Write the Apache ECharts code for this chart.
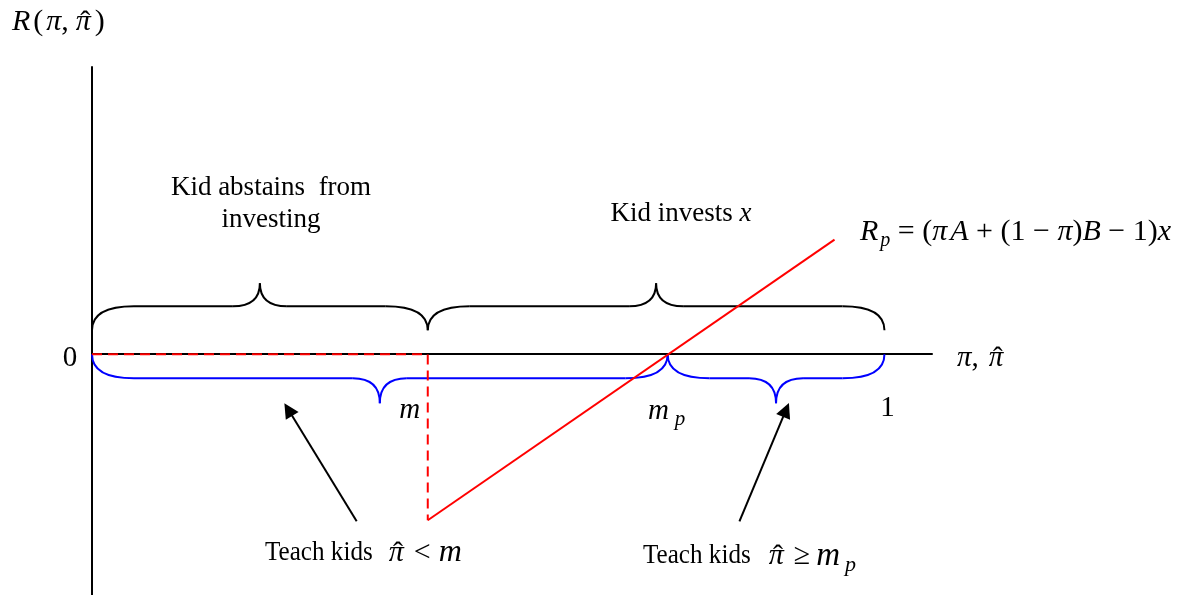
<!DOCTYPE html>
<html>
<head>
<meta charset="utf-8">
<script src="https://cdn.jsdelivr.net/npm/echarts@6/dist/echarts.min.js"></script>
<style>
  html, body { margin: 0; padding: 0; background: #fff; }
  #chart { width: 1197px; height: 595px; }
</style>
</head>
<body>
<div id="chart"></div>
<script>
// thresholds on the belief axis (0 .. 1)
const m = 0.4237;
const mP = 0.7264;
const axisTicks = [0, m, mP, 1];

// return R: zero while abstaining, then the R_p line through m_p
const redDashed = [[0, 0], [m, 0], [m, -1]];
const redSolid = [[m, -1], [0.937, 0.69]];

// brace ranges [from, to]
const upperBraces = [[0, m], [m, 1]];
const lowerBraces = [[0, mP], [mP, 1]];

// arrows [tail, head]
const arrows = [
  [[0.334, -1.006], [0.2477, -0.333]],
  [[0.817, -1.006], [0.8758, -0.335]],
];

const FONT = '"Liberation Serif", "Times New Roman", serif';

const chart = echarts.init(document.getElementById('chart'));

// curly brace drawn from axis coordinates; offsets in px: [ends, plateau, tip]
function braceRenderer(offsets, color) {
  return function (params, api) {
    const a = api.coord([api.value(0), 0]);
    const b = api.coord([api.value(1), 0]);
    const y0 = a[1];
    const yE = y0 + offsets[0];
    const yP = y0 + offsets[1];
    const yT = y0 + offsets[2];
    const x1 = a[0];
    const x2 = b[0];
    const xm = (x1 + x2) / 2;
    const r = 42;
    const r2 = 27;
    const style = { stroke: color, fill: null, lineWidth: 2 };
    return {
      type: 'group',
      children: [
        { type: 'bezierCurve', shape: { x1: x1, y1: yE, cpx1: x1, cpy1: yP, x2: x1 + r, y2: yP }, style: style },
        { type: 'line', shape: { x1: x1 + r, y1: yP, x2: xm - r2, y2: yP }, style: style },
        { type: 'bezierCurve', shape: { x1: xm - r2, y1: yP, cpx1: xm, cpy1: yP, x2: xm, y2: yT }, style: style },
        { type: 'bezierCurve', shape: { x1: xm, y1: yT, cpx1: xm, cpy1: yP, x2: xm + r2, y2: yP }, style: style },
        { type: 'line', shape: { x1: xm + r2, y1: yP, x2: x2 - r, y2: yP }, style: style },
        { type: 'bezierCurve', shape: { x1: x2 - r, y1: yP, cpx1: x2, cpy1: yP, x2: x2, y2: yE }, style: style },
      ],
    };
  };
}

const option = {
  backgroundColor: '#fff',
  animation: false,
  grid: { left: 92, right: 265, top: 67, bottom: 0 },
  xAxis: {
    type: 'value',
    min: 0,
    max: 1.06,
    axisLine: { show: true, onZero: true, lineStyle: { color: '#000', width: 2 } },
    axisTick: { show: false },
    axisLabel: { show: false },
    splitLine: { show: false },
  },
  yAxis: {
    type: 'value',
    min: -1.45,
    max: 1.73,
    axisLine: { show: true, lineStyle: { color: '#000', width: 2 } },
    axisTick: { show: false },
    axisLabel: { show: false },
    splitLine: { show: false },
  },
  series: [
    {
      type: 'line',
      data: redDashed,
      symbol: 'none',
      lineStyle: { color: '#ff0000', width: 2, type: [10, 6] },
      z: 5,
    },
    {
      type: 'line',
      data: redSolid,
      symbol: 'none',
      lineStyle: { color: '#ff0000', width: 2 },
      z: 5,
    },
    {
      type: 'custom',
      data: upperBraces,
      renderItem: braceRenderer([-24, -48, -71], '#000'),
      clip: false,
      silent: true,
    },
    {
      type: 'custom',
      data: lowerBraces,
      renderItem: braceRenderer([0, 24, 49], '#0000ff'),
      clip: false,
      silent: true,
    },
    {
      type: 'lines',
      coordinateSystem: 'cartesian2d',
      data: arrows.map((c) => ({ coords: c })),
      symbol: ['none', 'triangle'],
      symbolSize: 15,
      lineStyle: { color: '#000', width: 2, opacity: 1 },
      itemStyle: { color: '#000' },
      silent: true,
    },
  ],
};
chart.setOption(option);

// ---- math-ish text laid out piece by piece ----
const ctx = document.createElement('canvas').getContext('2d');
function fontStr(italic, size) {
  return (italic ? 'italic ' : '') + size + 'px ' + FONT;
}
function measure(text, italic, size) {
  ctx.font = fontStr(italic, size);
  return ctx.measureText(text).width;
}
// parts: ['n', text, size?, scaleX?] normal, ['i', text, size?] italic,
//        ['s', text, size?] subscript, ['h', size?] pi-hat, ['g', px] gap
function mathRow(x, y, parts, size, align) {
  const items = [];
  let cx = 0;
  parts.forEach((p) => {
    const kind = p[0];
    if (kind === 'g') {
      cx += p[1];
      return;
    }
    if (kind === 'h') {
      const hs = p[1] || size;
      const w = measure('π', true, hs);
      items.push({ text: 'π', x: cx, dy: 0, italic: true, size: hs, sx: 1 });
      items.push({ text: 'ˆ', x: cx + w / 2 + hs * 0.06, dy: hs * 0.04, italic: false, size: hs, sx: 1, center: true });
      cx += w;
      return;
    }
    const italic = kind !== 'n';
    const sz = p[2] || (kind === 's' ? Math.round(size * 0.68) : size);
    const sx = p[3] || 1;
    const w = measure(p[1], italic, sz) * sx;
    items.push({ text: p[1], x: cx, dy: kind === 's' ? size * 0.3 : 0, italic: italic, size: sz, sx: sx });
    cx += w;
  });
  const x0 = align === 'center' ? x - cx / 2 : x;
  return items.map((it) => ({
    type: 'text',
    x: x0 + it.x,
    y: y + it.dy,
    scaleX: it.sx,
    style: {
      text: it.text,
      font: fontStr(it.italic, it.size),
      fill: '#000',
      align: it.center ? 'center' : 'left',
      verticalAlign: 'middle',
    },
  }));
}

let graphics = [];

// tick labels anchored to the axis
const tickParts = [
  [['n', '0']],
  [['i', 'm']],
  [['i', 'm'], ['g', 6], ['s', 'p', 21]],
  [['n', '1']],
];
const tickOffsets = [[-22, 4], [-18, 56], [-1, 57], [3, 54]];
axisTicks.forEach((v, idx) => {
  const p = chart.convertToPixel({ gridIndex: 0 }, [v, 0]);
  graphics = graphics.concat(mathRow(p[0] + tickOffsets[idx][0], p[1] + tickOffsets[idx][1], tickParts[idx], 29, 'center'));
});

graphics = graphics.concat(
  mathRow(12, 22, [['i', 'R'], ['g', 3], ['n', '('], ['g', 3], ['i', 'π'], ['n', ','], ['g', 7], ['h'], ['g', 4], ['n', ')']], 30, 'left'),
  mathRow(957, 358, [['i', 'π'], ['n', ','], ['g', 10], ['h']], 29, 'left'),
  mathRow(860, 232, [['i', 'R'], ['g', 2], ['s', 'p'], ['n', ' = ('], ['i', 'π'], ['g', 3], ['i', 'A'], ['n', ' + (1 − '], ['i', 'π'], ['n', ')'], ['i', 'B'], ['n', ' − 1)'], ['i', 'x']], 30, 'left'),
  mathRow(681, 214, [['n', 'Kid invests '], ['i', 'x']], 27, 'center'),
  mathRow(265, 553, [['n', 'Teach kids', 27, 0.93], ['g', 16], ['h'], ['g', 10], ['n', '<'], ['g', 8], ['i', 'm', 32]], 30, 'left'),
  mathRow(643, 556, [['n', 'Teach kids', 27, 0.93], ['g', 18], ['h'], ['g', 10], ['n', '≥'], ['g', 6], ['i', 'm', 33], ['g', 5], ['s', 'p', 22]], 30, 'left')
);

graphics.push({
  type: 'text', x: 271, y: 204,
  style: { text: 'Kid abstains  from\ninvesting', font: fontStr(false, 27), lineHeight: 32, fill: '#000', align: 'center', verticalAlign: 'middle' },
});

chart.setOption({ graphic: graphics });
</script>
</body>
</html>
